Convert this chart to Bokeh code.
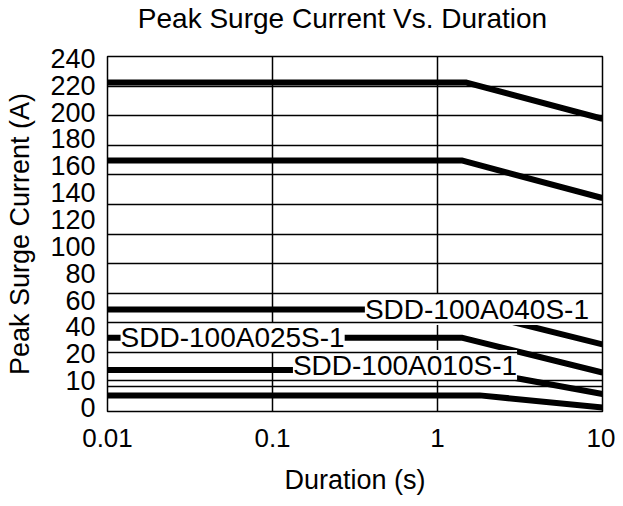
import numpy as np
from bokeh.plotting import figure
from bokeh.models import FixedTicker, ColumnDataSource, LabelSet, Label, Range1d
from bokeh.core.properties import value
from bokeh.embed import file_html
from bokeh.resources import INLINE

# ---- data ----
y_tick_values = [0, 10, 20, 40, 60, 80, 100, 120, 140, 160, 180, 200, 220, 240]
x_tick_values = [0.01, 0.1, 1, 10]
x_tick_labels = ["0.01", "0.1", "1", "10"]

duration_a = [0.01, 1.5, 10]
current_a = [222, 222, 195]
duration_b = [0.01, 1.4, 10]
current_b = [164, 164, 136]
duration_040 = [0.01, 1.4, 10]
current_040 = [53, 53, 27]
duration_025 = [0.01, 1.4, 10]
current_025 = [32, 32, 13]
duration_010 = [0.01, 1.6, 10]
current_010 = [14, 14, 5]
duration_f = [0.01, 1.8, 10]
current_f = [4.5, 4.5, 0]

label_names = ["SDD-100A040S-1", "SDD-100A025S-1", "SDD-100A010S-1"]
label_duration = [0.363, 0.012, 0.133]
label_current = [53, 32.1, 15.6]

TITLE = "Peak Surge Current Vs. Duration"
FONT = "Liberation Sans"

# the chart's y axis places its labels at equal steps (non-linear in amps)
slot = np.arange(len(y_tick_values))


def to_axis(v):
    return np.interp(v, y_tick_values, slot)


y_lo, y_hi = -0.15, 13.07

p = figure(width=615, height=498, x_axis_type="log",
           x_range=Range1d(0.01, 10), y_range=Range1d(y_lo, y_hi),
           output_backend="svg", toolbar_location=None,
           min_border_left=107, min_border_right=13,
           min_border_top=56, min_border_bottom=87)

p.background_fill_color = "white"
p.border_fill_color = "white"
p.outline_line_color = "black"
p.outline_line_width = 1.5

# axes
for ax in (p.xaxis[0], p.yaxis[0]):
    ax.axis_line_color = None
    ax.major_tick_line_color = None
    ax.minor_tick_line_color = None
    ax.major_label_text_font = FONT
    ax.major_label_text_color = "black"
    ax.axis_label_text_font = FONT
    ax.axis_label_text_font_size = "27px"
    ax.axis_label_text_font_style = "normal"
    ax.axis_label_text_color = "black"

p.xaxis.ticker = FixedTicker(ticks=x_tick_values)
p.xaxis.major_label_overrides = {v: s for v, s in zip(x_tick_values, x_tick_labels)}
p.xaxis.major_label_text_font_size = "26px"
p.xaxis.axis_label = "Duration (s)"
p.xaxis.major_label_standoff = 11
p.xaxis.axis_label_standoff = 15

p.yaxis.ticker = FixedTicker(ticks=[int(i) for i in slot])
p.yaxis.major_label_overrides = {int(i): str(v) for i, v in zip(slot, y_tick_values)}
p.yaxis.major_label_text_font_size = "27px"
p.yaxis.axis_label = "Peak Surge Current (A)"
p.yaxis.major_label_standoff = 6
p.yaxis.axis_label_standoff = 12

# grids
p.xgrid.ticker = FixedTicker(ticks=[0.1, 1])
p.xgrid.grid_line_color = "black"
p.xgrid.grid_line_width = 1.5
grid_pos = list(np.linspace(y_hi, y_lo, 13)[1:11]) + [1.0, 0.78]
p.ygrid.ticker = FixedTicker(ticks=grid_pos)
p.ygrid.grid_line_color = "black"
p.ygrid.grid_line_width = 1.5
p.ygrid.level = "overlay"

# series
for xs, ys in [(duration_a, current_a), (duration_b, current_b),
               (duration_040, current_040), (duration_025, current_025),
               (duration_010, current_010), (duration_f, current_f)]:
    p.line(xs, to_axis(ys), line_width=6, line_color="black")

src = ColumnDataSource(dict(x=label_duration, y=to_axis(label_current), t=label_names))
labels = LabelSet(x="x", y="y", text="t", source=src,
                  text_font=value(FONT), text_font_size=value("28px"),
                  text_color="black",
                  text_align="left", text_baseline="middle",
                  background_fill_color="white")
p.add_layout(labels)

# chart title, in the panel above the plot frame (screen px)
title = Label(x=235, y=37.7, x_units="screen", y_units="screen", text=TITLE,
              text_font=FONT, text_font_size="28px", text_color="black",
              text_align="center", text_baseline="alphabetic")
p.add_layout(title, "above")

open("out.html", "w").write(file_html(p, INLINE))
